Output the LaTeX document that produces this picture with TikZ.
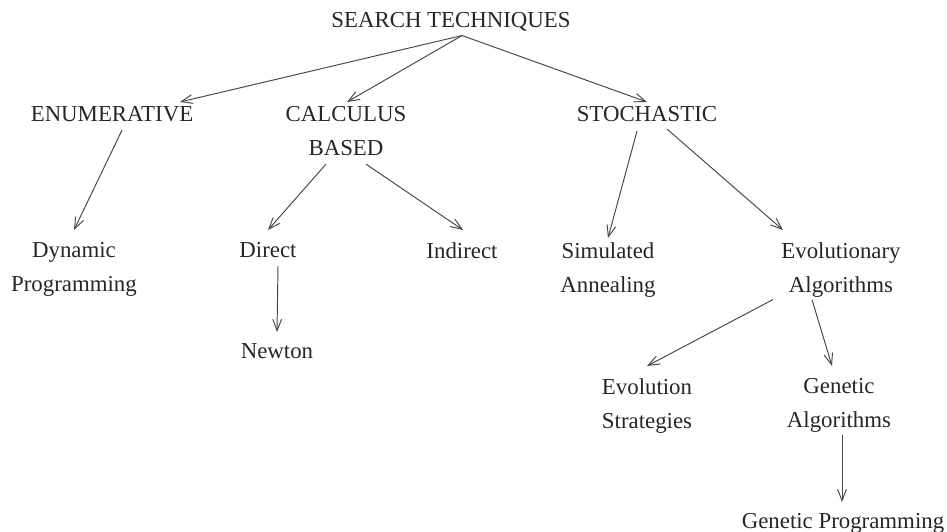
\documentclass[tikz,border=0pt]{standalone}
\usepackage{fontspec}
\setmainfont{Liberation Serif}
\usepackage{tikz}
\usetikzlibrary{arrows.meta}

\begin{document}
\begin{tikzpicture}[x=0.02cm, y=-0.02cm, >={Straight Barb[length=6.5pt, width=5pt]},
      lbl/.style={anchor=north, inner sep=0pt, align=center, text=black!85,
                  font=\fontsize{13}{19.4}\selectfont},
      arr/.style={->, line width=0.55pt, draw=black!72}]

    \useasboundingbox (0,0) rectangle (947,531);

    % root and first level
    \node[lbl] (top) at (451,12) {SEARCH TECHNIQUES};
    \node[lbl] (enum) at (112,106) {ENUMERATIVE};
    \node[lbl] (calc) at (346,106) {CALCULUS\\BASED};
    \node[lbl] (stoch) at (647,106) {STOCHASTIC};

    \draw[arr] ([shift={(11,4)}]top.south) -- ([shift={(68,-4)}]enum.north);
    \draw[arr] ([shift={(11,4)}]top.south) -- ([shift={(1,-4)}]calc.north);
    \draw[arr] ([shift={(11,4)}]top.south) -- ([shift={(0,-4)}]stoch.north);

    % second level
    \node[lbl] (dyn) at (74,242) {Dynamic\\Programming};
    \node[lbl] (direct) at (268,242) {Direct};
    \node[lbl] (indirect) at (462,242) {Indirect};
    \node[lbl] (sim) at (608,242) {Simulated\\Annealing};
    \node[lbl] (evo) at (841,242) {Evolutionary\\Algorithms};

    \draw[arr] ([shift={(10,8)}]enum.south) -- ([shift={(0,-12)}]dyn.north);
    \draw[arr] ([shift={(-20,8)}]calc.south) -- ([shift={(0,-12)}]direct.north);
    \draw[arr] ([shift={(20,8)}]calc.south) -- ([shift={(1,-12)}]indirect.north);
    \draw[arr] ([shift={(-10,9)}]stoch.south) -- ([shift={(0,-4)}]sim.north);
    \draw[arr] ([shift={(20,7)}]stoch.south) -- ([shift={(-58,-12)}]evo.north);

    % lower levels
    \node[lbl] (newton) at (277,343) {Newton};
    \node[lbl] (evstr) at (647,378) {Evolution\\Strategies};
    \node[lbl] (ga) at (839,378) {Genetic\\Algorithms};
    \node[lbl] (gp) at (843,513) {Genetic Programming};

    \draw[arr] ([shift={(10,8)}]direct.south) -- ([shift={(0,-11)}]newton.north);
    \draw[arr] ([shift={(-68,2)}]evo.south) -- ([shift={(0,-12)}]evstr.north);
    \draw[arr] ([shift={(-29,2)}]evo.south) -- ([shift={(-7,-12)}]ga.north);
    \draw[arr] ([shift={(3,2)}]ga.south) -- ([shift={(-1,-11)}]gp.north);

\end{tikzpicture}
\end{document}
